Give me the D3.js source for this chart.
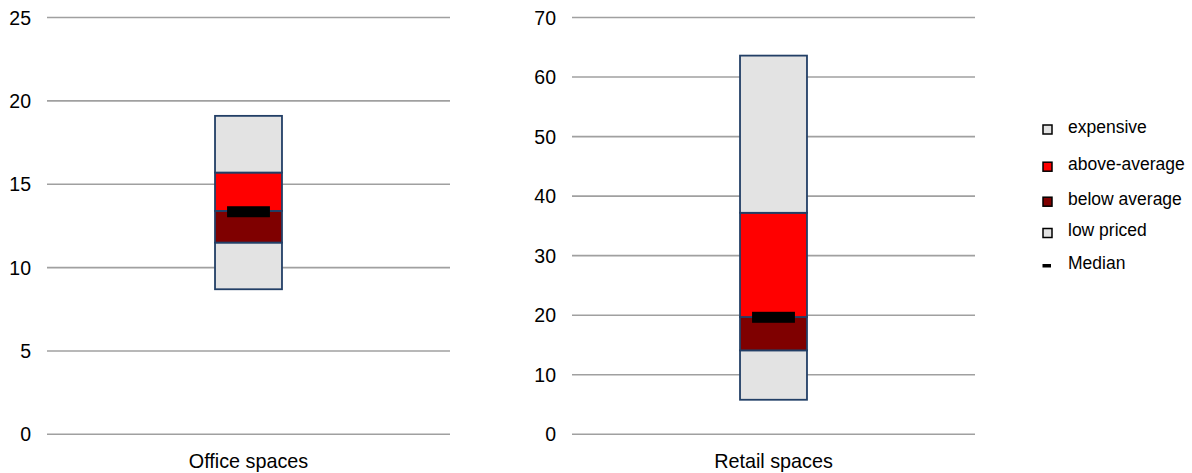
<!DOCTYPE html>
<html>
<head>
<meta charset="utf-8">
<script src="https://cdn.jsdelivr.net/npm/d3@7"></script>
<style>
  body { margin: 0; background: #fff; }
  text { font-family: Arial, "Liberation Sans", sans-serif; fill: #000; }
</style>
</head>
<body>
<div id="chart"></div>
<script>
// data
const categories = ["Office spaces", "Retail spaces"];
const lowPriced = [[8.7, 11.5], [5.8, 14.1]];
const belowAverage = [[11.5, 13.4], [14.1, 19.7]];
const aboveAverage = [[13.4, 15.7], [19.7, 37.2]];
const expensive = [[15.7, 19.1], [37.2, 63.6]];
const medians = [13.35, 19.65];
const yMax = [25, 70];
const yTicks = [[0, 5, 10, 15, 20, 25], [0, 10, 20, 30, 40, 50, 60, 70]];
const legendLabels = ["expensive", "above-average", "below average", "low priced", "Median"];

const WIDTH = 1192, HEIGHT = 473;
const PANELS = [{ x0: 47, x1: 450 }, { x0: 572, x1: 975 }];
const Y_TOP = 17.5, Y_BOTTOM = 434.3;

const colors = {
  expensive: "#e3e3e3",
  above: "#ff0000",
  below: "#7f0000",
  low: "#e3e3e3",
  border: "#223f66",
  grid: "#a0a0a0"
};

const svg = d3.select("#chart").append("svg")
  .attr("width", WIDTH)
  .attr("height", HEIGHT);

categories.forEach((cat, i) => {
  const p = PANELS[i];
  const g = svg.append("g");

  const x = d3.scaleBand()
    .domain([cat])
    .range([p.x0, p.x1])
    .padding(0.715);
  const y = d3.scaleLinear()
    .domain([0, yMax[i]])
    .range([Y_BOTTOM, Y_TOP]);

  // grid lines
  g.selectAll(".grid")
    .data(yTicks[i])
    .enter()
    .append("line")
    .attr("x1", p.x0)
    .attr("x2", p.x1)
    .attr("y1", d => y(d))
    .attr("y2", d => y(d))
    .attr("stroke", colors.grid)
    .attr("stroke-width", 1.6);

  // y axis labels
  g.selectAll(".ylab")
    .data(yTicks[i])
    .enter()
    .append("text")
    .attr("x", p.x0 - 16)
    .attr("y", d => y(d))
    .attr("dy", "0.36em")
    .attr("text-anchor", "end")
    .attr("font-size", "19.5px")
    .text(d => d);

  // stacked segments
  const segs = [
    { r: lowPriced[i], c: colors.low },
    { r: belowAverage[i], c: colors.below },
    { r: aboveAverage[i], c: colors.above },
    { r: expensive[i], c: colors.expensive }
  ];
  g.selectAll(".seg")
    .data(segs)
    .enter()
    .append("rect")
    .attr("x", x(cat))
    .attr("width", x.bandwidth())
    .attr("y", d => y(d.r[1]))
    .attr("height", d => y(d.r[0]) - y(d.r[1]))
    .attr("fill", d => d.c)
    .attr("stroke", colors.border)
    .attr("stroke-width", 1.8);

  // median marker
  const mw = x.bandwidth() * 0.64;
  g.append("rect")
    .attr("x", x(cat) + (x.bandwidth() - mw) / 2)
    .attr("y", y(medians[i]) - 5.5)
    .attr("width", mw)
    .attr("height", 11)
    .attr("fill", "#000");

  // category label
  g.append("text")
    .attr("x", x(cat) + x.bandwidth() / 2)
    .attr("y", 468)
    .attr("text-anchor", "middle")
    .attr("font-size", "19.8px")
    .text(cat);
});

// legend
const legendY = [129.5, 166.7, 201.7, 233, 265.5];
const legendFill = [colors.expensive, colors.above, colors.below, colors.low, "#000"];
const legend = svg.append("g");
legendLabels.forEach((lab, k) => {
  if (k < 4) {
    legend.append("rect")
      .attr("x", 1043)
      .attr("y", legendY[k] - 4.5)
      .attr("width", 9)
      .attr("height", 9)
      .attr("fill", legendFill[k])
      .attr("stroke", "#000")
      .attr("stroke-width", 1.5);
  } else {
    legend.append("rect")
      .attr("x", 1042.5)
      .attr("y", legendY[k] - 1.5)
      .attr("width", 8.5)
      .attr("height", 3.5)
      .attr("fill", "#000");
  }
  legend.append("text")
    .attr("x", 1068)
    .attr("y", legendY[k] + 3)
    .attr("font-size", "17.5px")
    .text(lab);
});
</script>
</body>
</html>
